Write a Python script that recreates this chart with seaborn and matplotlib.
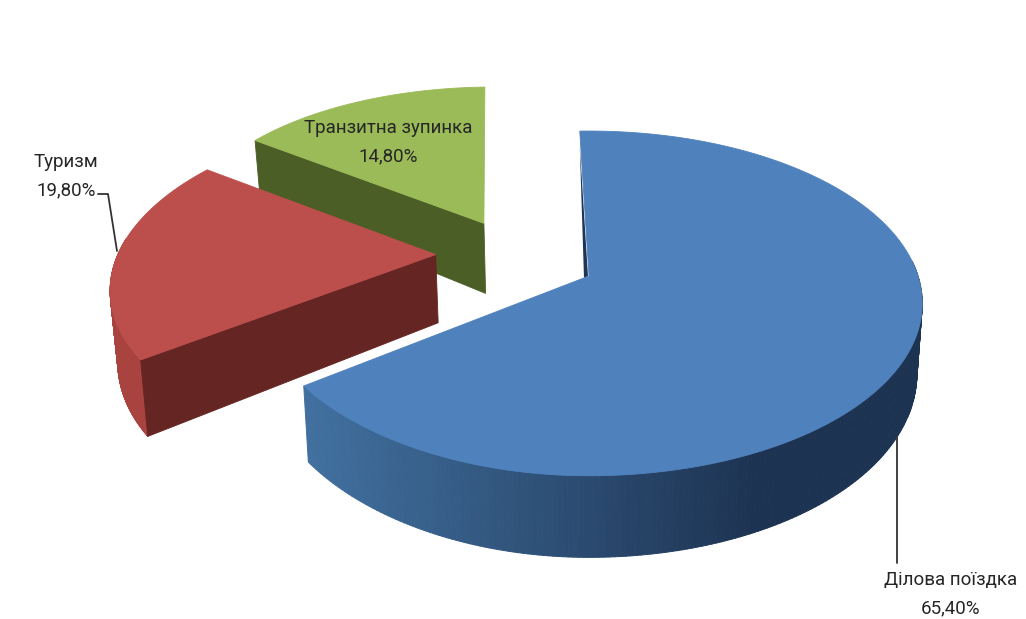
import numpy as np
import matplotlib
matplotlib.use("Agg")
import matplotlib.pyplot as plt
from matplotlib.collections import PolyCollection
import seaborn as sns

# Share of trips by purpose
categories = ["Ділова поїздка", "Туризм", "Транзитна зупинка"]
shares = [65.40, 19.80, 14.80]
value_labels = ["65,40%", "19,80%", "14,80%"]

sns.set_theme(style="white")
plt.rcParams["font.family"] = ["Roboto", "DejaVu Sans"]

top_colors = sns.color_palette(["#4f81bd", "#bc4f4c", "#9bbb59"])
radial_colors = sns.color_palette(["#1d3557", "#652522", "#4b5e25"])
rim_light = sns.color_palette(["#41709f", "#a8433f", "#4b5e25"])
rim_dark = sns.color_palette(["#1d3352", "#a8433f", "#4b5e25"])

# Projection of the tilted disc onto the canvas
CENTER = (589.0, 276.0)
RX, RY = 329.0, 168.0
PERSP_Y = 0.159
START_ANGLE = -1.8
WALL_CONVERGE = 0.016
WALL_TILT = 0.2

# Slice layout: displacement on the disc plane, radii, x perspective, wall height
explode = [(0.0, 0.0), (-0.475, 0.13), (-0.33, 0.33)]
radius = [(1.0, 1.0), (0.985, 1.0), (0.95, 1.04)]
persp_x = [0.12, 0.15, 0.10]
wall = [68.0, 70.0, 75.0]


def project(u, v, bx):
    # The large slice keeps full perspective on its right half
    b = np.where(u > 0, PERSP_Y, bx)
    x = CENTER[0] + RX * u / (1 + b * v)
    y = CENTER[1] - RY * v / (1 + PERSP_Y * v)
    return x, y


def extrude(x, y, v, h):
    # Lower edge of a wall below a rim point
    return CENTER[0] + (x - CENTER[0]) * (1 - WALL_CONVERGE), y + h * (1 - WALL_TILT * v)


fig, ax = plt.subplots(figsize=(10.26, 6.19), dpi=100)
fig.subplots_adjust(0, 0, 1, 1)
ax.set_xlim(0, 1026)
ax.set_ylim(619, 0)
ax.axis("off")

bounds = np.concatenate([[0], np.cumsum(shares)]) / sum(shares) * 360.0 + START_ANGLE

# Far slices first so that nearer ones cover them
for i in [2, 1, 0]:
    off, (rx, ry), h, bx = explode[i], radius[i], wall[i], persp_x[i]
    t = np.radians(np.linspace(bounds[i], bounds[i + 1], 300))
    us, vs = off[0] + rx * np.sin(t), off[1] + ry * np.cos(t)
    xs, ys = project(us, vs, bx)
    x_low, y_low = extrude(xs, ys, vs, h)
    ax0, ay0 = project(np.array(off[0]), np.array(off[1]), bx)
    ax1, ay1 = extrude(ax0, ay0, off[1], h)
    base = (2 - i) * 3

    # Outer wall on the near half only, shaded along the arc
    c_light, c_dark = np.array(rim_light[i]), np.array(rim_dark[i])
    quads, cols = [], []
    for k in range(len(xs) - 1):
        if np.cos(t[k]) > 0.1:
            continue
        quads.append([(xs[k], ys[k]), (xs[k + 1], ys[k + 1]),
                      (x_low[k + 1], y_low[k + 1]), (x_low[k], y_low[k])])
        f = np.clip((xs[k] - 310) / 450, 0, 1)
        cols.append(c_light * (1 - f) + c_dark * f)
    if quads:
        ax.add_collection(PolyCollection(quads, facecolors=cols, edgecolors=cols,
                                         linewidths=0.7, zorder=base + 1))

    # Cut face running from the arc's first corner back to the apex
    if i == 0:
        ax.fill([xs[0], ax0 - 1, ax0 - 5],
                [ys[0] + 15, ay0, ay0 + 2],
                color=radial_colors[i], lw=0, zorder=base + 1)
    else:
        ax.fill([xs[0], ax0, ax1, x_low[0]], [ys[0], ay0, ay1, y_low[0]],
                color=radial_colors[i], lw=0.6, zorder=base + 2)

    # Top face
    ax.fill(np.r_[ax0, xs], np.r_[ay0, ys], color=top_colors[i], lw=0.6, zorder=base + 3)

# Callout labels with leader lines
text_color = "#262626"
ax.plot([897, 897], [437, 563], color="#333333", lw=1.3, zorder=20)
ax.plot([98, 108, 117], [194, 194, 251], color="#333333", lw=1.3, zorder=20)
label_pos = [(951, 594), (66, 176), (388, 142)]
for name, val, (tx, ty) in zip(categories, value_labels, label_pos):
    ax.text(tx, ty, f"{name}\n{val}", ha="center", va="center", fontsize=13.5,
            color=text_color, linespacing=1.7, zorder=21)

fig.savefig("out.png", dpi=100, facecolor="white")
